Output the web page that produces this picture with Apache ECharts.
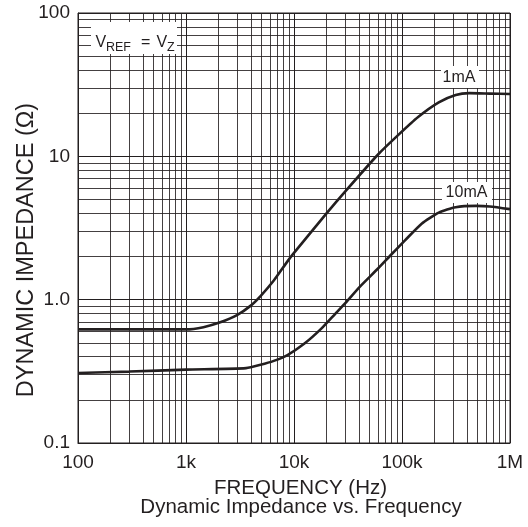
<!DOCTYPE html>
<html><head><meta charset="utf-8">
<script src="https://cdn.jsdelivr.net/npm/echarts@6/dist/echarts.min.js"></script>
<style>html,body{margin:0;padding:0;background:#fff}#c{width:528px;height:527px}</style>
</head><body><div id="c"></div>
<script>
// ---- data ----
const freq1mA = [100, 300, 1000, 1450, 2075, 2965, 3950, 4900, 6500, 8700, 10000, 20000, 30000, 60000, 91500, 141000, 219000, 314000, 420000, 650000, 1000000];
const imp1mA  = [0.62, 0.62, 0.62, 0.643, 0.695, 0.78, 0.905, 1.06, 1.36, 1.85, 2.12, 4.0, 5.72, 10.3, 14.0, 18.8, 23.8, 26.8, 27.6, 27.4, 27.2];
const freq10mA = [100, 300, 1000, 3600, 4900, 6500, 8700, 12500, 18100, 24200, 30000, 40600, 60000, 78800, 106000, 152000, 219000, 314000, 485000, 650000, 1000000];
const imp10mA  = [0.308, 0.315, 0.325, 0.333, 0.351, 0.374, 0.411, 0.494, 0.633, 0.80, 0.95, 1.23, 1.65, 2.05, 2.58, 3.39, 4.05, 4.42, 4.51, 4.47, 4.28];
const xTickLabels = {'100':'100','1000':'1k','10000':'10k','100000':'100k','1000000':'1M'};
const yTickLabels = {'0.1':'0.1','1':'1.0','10':'10','100':'100'};
const minorMultipliers = [2,3,4,5,6,7,8,9];
const xDecades = [100, 1000, 10000, 100000];
const yDecades = [0.1, 1, 10];
const seriesNames = ['1mA', '10mA'];

const INK = '#231f20';
const FONT = '"Liberation Sans", Arial, sans-serif';

function pairs(xs, ys){ return xs.map((x,i)=>[x, ys[i]]); }

const minorLines = [];
xDecades.forEach(d => minorMultipliers.forEach(m => minorLines.push({xAxis: d*m})));
yDecades.forEach(d => minorMultipliers.forEach(m => minorLines.push({yAxis: d*m})));

const chart = echarts.init(document.getElementById('c'), null, {renderer:'canvas'});
chart.setOption({
  animation: false,
  backgroundColor: '#fff',
  grid: {left: 78, right: 18, top: 13, bottom: 84, show: true, borderColor: INK, borderWidth: 1, backgroundColor: 'transparent'},
  xAxis: {
    type: 'log', logBase: 10, min: 100, max: 1000000,
    axisLine: {show: true, lineStyle: {color: INK, width: 1}},
    axisTick: {show: false},
    splitLine: {show: true, lineStyle: {color: INK, width: 1}},
    axisLabel: {color: INK, fontFamily: FONT, fontSize: 19, margin: 10,
      formatter: v => xTickLabels[String(v)] || String(v)}
  },
  yAxis: {
    type: 'log', logBase: 10, min: 0.1, max: 100,
    axisLine: {show: true, lineStyle: {color: INK, width: 1}},
    axisTick: {show: false},
    splitLine: {show: true, lineStyle: {color: INK, width: 1}},
    axisLabel: {color: INK, fontFamily: FONT, fontSize: 19, margin: 8,
      formatter: v => yTickLabels[String(v)] || String(v)}
  },
  series: [
    {type: 'line', data: [], silent: true, z: 1,
      markLine: {silent: true, symbol: ['none','none'], animation: false,
        label: {show: false}, lineStyle: {type: 'solid', color: INK, width: 1, opacity: 0.85},
        emphasis: {disabled: true},
        data: minorLines}},
    {name: seriesNames[0], type: 'line', data: pairs(freq1mA, imp1mA), showSymbol: false, smooth: 0.2, z: 5,
      lineStyle: {color: INK, width: 2.6}},
    {name: seriesNames[1], type: 'line', data: pairs(freq10mA, imp10mA), showSymbol: false, smooth: 0.2, z: 5,
      lineStyle: {color: INK, width: 2.6}}
  ],
  graphic: [
    // V_REF = V_Z annotation
    {type: 'rect', z: 50, shape: {x: 91, y: 22, width: 86, height: 32}, style: {fill: '#fff'}},
    {type: 'text', z: 51, x: 95.5, y: 42.2, style: {text: 'V', font: '16px ' + FONT, fill: INK, textAlign: 'left', verticalAlign: 'middle'}},
    {type: 'text', z: 51, x: 106, y: 48, style: {text: 'REF', font: '12.5px ' + FONT, fill: INK, textAlign: 'left', verticalAlign: 'middle'}},
    {type: 'text', z: 51, x: 141, y: 42.2, style: {text: '=', font: '16px ' + FONT, fill: INK, textAlign: 'left', verticalAlign: 'middle'}},
    {type: 'text', z: 51, x: 156.5, y: 42.2, style: {text: 'V', font: '16px ' + FONT, fill: INK, textAlign: 'left', verticalAlign: 'middle'}},
    {type: 'text', z: 51, x: 167, y: 48, style: {text: 'Z', font: '12.5px ' + FONT, fill: INK, textAlign: 'left', verticalAlign: 'middle'}},
    // series labels
    {type: 'rect', z: 50, shape: {x: 441, y: 66, width: 38, height: 22}, style: {fill: '#fff'}},
    {type: 'text', z: 51, x: 459, y: 78, style: {text: seriesNames[0], font: '16px ' + FONT, fill: INK, textAlign: 'center', verticalAlign: 'middle'}},
    {type: 'rect', z: 50, shape: {x: 442, y: 182, width: 50, height: 21}, style: {fill: '#fff'}},
    {type: 'text', z: 51, x: 466.5, y: 192.5, style: {text: seriesNames[1], font: '16px ' + FONT, fill: INK, textAlign: 'center', verticalAlign: 'middle'}},
    // axis names and caption
    {type: 'text', z: 51, x: 300.5, y: 488, style: {text: 'FREQUENCY (Hz)', font: '20.5px ' + FONT, fill: INK, textAlign: 'center', verticalAlign: 'middle'}},
    {type: 'text', z: 51, x: 301, y: 507, style: {text: 'Dynamic Impedance vs. Frequency', font: '20.5px ' + FONT, fill: INK, textAlign: 'center', verticalAlign: 'middle'}},
    {type: 'text', z: 51, x: 27, y: 250, rotation: Math.PI/2, style: {text: 'DYNAMIC IMPEDANCE (Ω)', font: '23.5px ' + FONT, fill: INK, textAlign: 'center', verticalAlign: 'middle'}}
  ]
});
</script>
</body></html>
